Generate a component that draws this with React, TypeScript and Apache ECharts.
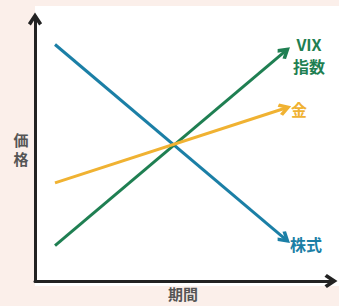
import React, { useEffect, useRef } from "react";
import * as echarts from "echarts";

const periods = [0, 10];
const stockValues = [24.1, 4.3];
const vixValues = [3.6, 23.4];
const goldValues = [10.0, 17.6];
const seriesNames = ["株式", "VIX", "金"];
const vixSubLabel = "指数";
const axisNames = { x: "期間", y: ["価", "格"] };

const BLUE = "#1b7fa6";
const GREEN = "#1f7f52";
const ORANGE = "#f0b232";
const AXIS = "#222222";
const CHEVRON = "path://M0,9 L6,0 L12,9 L9.5,11 L6,5.6 L2.5,11 Z";
const FONT = "'Noto Sans CJK JP', 'Noto Sans', sans-serif";

export default function App() {
  const ref = useRef<HTMLDivElement>(null);
  useEffect(() => {
    if (!ref.current) return;
    const chart = echarts.init(ref.current, null, { renderer: "svg" });
    const mk = (name: string, vals: number[], color: string) => ({
      type: "lines",
      name,
      coordinateSystem: "cartesian2d",
      z: 3,
      symbol: ["none", CHEVRON],
      symbolSize: [17, 13],
      lineStyle: { color, width: 3, opacity: 1, curveness: 0 },
      itemStyle: { color },
      data: [{ coords: [[periods[0], vals[0]], [periods[1], vals[1]]] }],
    });
    const axisCommon = {
      type: "value",
      axisLine: {
        onZero: false,
        lineStyle: { color: AXIS, width: 3 },
        symbol: ["none", CHEVRON],
        symbolSize: [20, 13],
        symbolOffset: [0, 0],
      },
      axisTick: { show: false },
      axisLabel: { show: false },
      splitLine: { show: false },
    };
    chart.setOption({
      animation: false,
      backgroundColor: "#fbefea",
      textStyle: { fontFamily: FONT },
      grid: { left: 35, right: 8, top: 19, bottom: 20 },
      xAxis: {
        ...axisCommon,
        min: -0.87,
        max: 12.0,
        name: axisNames.x,
        nameLocation: "middle",
        nameGap: 5,
        nameTextStyle: { color: "#555", fontSize: 15, fontWeight: "bold", verticalAlign: "top" },
      },
      yAxis: {
        ...axisCommon,
        min: 0,
        max: 26.7,
      },
      series: [mk(seriesNames[0], stockValues, BLUE), mk(seriesNames[1], vixValues, GREEN), mk(seriesNames[2], goldValues, ORANGE)],
    });
    const pStock = chart.convertToPixel({ gridIndex: 0 }, [periods[1], stockValues[1]]) as number[];
    const pVix = chart.convertToPixel({ gridIndex: 0 }, [periods[1], vixValues[1]]) as number[];
    const pGold = chart.convertToPixel({ gridIndex: 0 }, [periods[1], goldValues[1]]) as number[];
    const lbl = (text: string, x: number, y: number, color: string, align: string, size = 16) => ({
      type: "text",
      z: 5,
      x,
      y,
      style: { text, fill: color, font: `bold ${size}px ${FONT}`, textAlign: align, textVerticalAlign: "middle" },
    });
    chart.setOption({
      graphic: [
        { type: "rect", z: -10, shape: { x: 35, y: 6, width: 304, height: 280 }, style: { fill: "#ffffff" } },
        lbl(seriesNames[1], pVix[0] + 24, pVix[1] - 7, GREEN, "center"),
        lbl(vixSubLabel, pVix[0] + 24, pVix[1] + 15, GREEN, "center"),
        lbl(seriesNames[2], pGold[0] + 6, pGold[1] + 1, ORANGE, "left"),
        lbl(seriesNames[0], pStock[0] + 5, pStock[1] + 5, BLUE, "left"),
        lbl(axisNames.y[0], 21, 139, "#555", "center", 15),
        lbl(axisNames.y[1], 21, 158, "#555", "center", 15),
      ],
    });
    return () => chart.dispose();
  }, []);
  return <div ref={ref} style={{ position: "fixed", left: 0, top: 0, width: 339, height: 306 }} />;
}
